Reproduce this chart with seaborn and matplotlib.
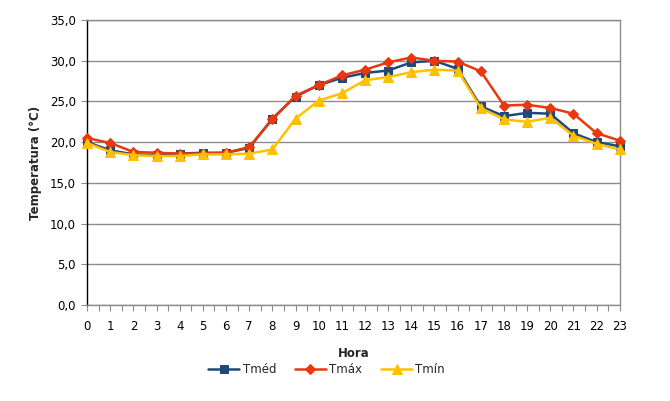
import matplotlib
matplotlib.use("Agg")
import matplotlib.pyplot as plt
import seaborn as sns
import pandas as pd
import numpy as np
from matplotlib.ticker import FuncFormatter, MultipleLocator

horas = list(range(24))
tmed = [20.0, 19.0, 18.5, 18.4, 18.6, 18.7, 18.7, 19.3, 22.9, 25.6, 27.0, 27.9, 28.5, 28.8,
        29.8, 30.0, 29.0, 24.4, 23.2, 23.6, 23.5, 21.1, 20.0, 19.5]
tmax = [20.5, 19.9, 18.8, 18.7, 18.6, 18.6, 18.7, 19.4, 22.8, 25.7, 27.0, 28.2, 28.9, 29.8,
        30.4, 30.0, 29.9, 28.7, 24.5, 24.6, 24.2, 23.5, 21.1, 20.2]
tmin = [19.9, 18.8, 18.4, 18.3, 18.3, 18.5, 18.5, 18.6, 19.1, 22.9, 25.1, 26.0, 27.6, 28.0,
        28.6, 28.9, 28.8, 24.2, 22.8, 22.5, 23.0, 20.8, 19.8, 19.1]
series_names = ["Tméd", "Tmáx", "Tmín"]
yticks = [0, 5, 10, 15, 20, 25, 30, 35]

sns.set_theme(style="white")
plt.rcParams['font.family'] = ['DejaVu Sans']

df = pd.DataFrame({
    "Hora": horas * 3,
    "T": tmed + tmax + tmin,
    "Serie": [series_names[0]] * 24 + [series_names[1]] * 24 + [series_names[2]] * 24,
})

colors = {"Tméd": "#1F497D", "Tmáx": "#E8380D", "Tmín": "#FFC000"}
markers = {"Tméd": "s", "Tmáx": "D", "Tmín": "^"}
msizes = {"Tméd": 5.8, "Tmáx": 5.6, "Tmín": 6.8}

fig = plt.figure(figsize=(6.70, 4.01), dpi=100)
ax = fig.add_axes([0.13, 0.2394, 0.795, 0.7106])

for name in series_names:
    sub = df[df["Serie"] == name]
    sns.lineplot(data=sub, x="Hora", y="T", ax=ax, color=colors[name], marker=markers[name],
                 markersize=msizes[name], markeredgecolor=colors[name], linewidth=1.8,
                 label=name, clip_on=False, zorder=3)

ax.set_xlim(0, 23)
ax.set_ylim(0, 35)
ax.set_yticks(yticks)
ax.yaxis.set_major_formatter(FuncFormatter(lambda v, p: f"{v:.1f}".replace(".", ",")))
ax.set_xticks(horas)
ax.xaxis.set_minor_locator(MultipleLocator(0.5))
ax.grid(axis="y", color="#8c8c8c", linewidth=1.0)
ax.set_axisbelow(True)

ax.spines["left"].set_color("black")
ax.spines["left"].set_linewidth(1.0)
for s in ["bottom", "right", "top"]:
    ax.spines[s].set_color("#8c8c8c")
    ax.spines[s].set_linewidth(1.0)

ax.tick_params(axis="x", which="both", direction="out", length=4, width=0.8, color="#8c8c8c",
               bottom=True, labelsize=8.5, pad=7, labelcolor="black")
ax.tick_params(axis="y", which="major", direction="out", length=4, width=0.8, color="#8c8c8c",
               left=True, labelsize=8.5, pad=4, labelcolor="black")

ax.set_xlabel("Hora", fontsize=8.5, fontweight="bold", labelpad=10)
ax.set_ylabel("Temperatura (°C)", fontsize=8.5, fontweight="bold", labelpad=6)

ax.legend(loc="center", bbox_to_anchor=(0.45, -0.228), ncol=3, frameon=False,
          fontsize=8.5, handlelength=2.6, columnspacing=1.6, handletextpad=0.3)

fig.savefig("out.png", dpi=100)
